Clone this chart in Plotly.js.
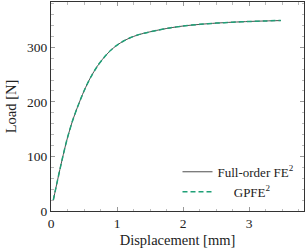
<!DOCTYPE html>
<html>
<head>
<meta charset="utf-8">
<script src="https://cdn.plot.ly/plotly-3.0.1.min.js"></script>
<style>html,body{margin:0;padding:0;background:#fff}#plot{width:306px;height:252px}</style>
</head>
<body>
<div id="plot"></div>
<script>
const displacement = [0.035, 0.1, 0.17, 0.24, 0.32, 0.40, 0.50, 0.60, 0.70, 0.80, 0.90, 1.00, 1.10, 1.20, 1.30, 1.40, 1.60, 1.80, 2.00, 2.25, 2.50, 2.75, 3.00, 3.25, 3.48];
const loadFull = [20, 57, 95, 130, 163, 190, 220, 245, 265, 281, 294, 304, 311.5, 317.5, 322, 325.5, 331, 335.5, 339, 342, 344.3, 346, 347.3, 348.3, 349];
const loadGP = [20, 57, 95, 130, 163, 190, 220, 245, 265, 281, 294, 304, 311.5, 317.5, 322, 325.5, 331, 335.5, 339, 342, 344.3, 346, 347.3, 348.3, 349.2];
const xTicks = [0, 1, 2, 3];
const yTicks = [0, 100, 200, 300];

const fam = 'Liberation Serif, DejaVu Serif, serif';
const tickFont = {family: fam, size: 13.5, color: '#222'};
const titleFont = {family: fam, size: 14.5, color: '#222'};
const traces = [
  {x: displacement, y: loadFull, type: 'scatter', mode: 'lines', name: 'Full-order FE<sup>2</sup>',
   line: {color: '#3a3a3a', width: 0.9, shape: 'spline', smoothing: 0.8}},
  {x: displacement, y: loadGP, type: 'scatter', mode: 'lines', name: '&nbsp;&nbsp;&nbsp;&nbsp;&nbsp;GPFE<sup>2</sup>',
   line: {color: '#1fa077', width: 1.5, dash: '5px,3px', shape: 'spline', smoothing: 0.8}}
];
const axisCommon = {
  showgrid: false, zeroline: false, showline: true, linecolor: '#333', linewidth: 1,
  mirror: 'allticks', ticks: 'inside', ticklen: 4, tickcolor: '#999', tickwidth: 1,
  tickfont: tickFont
};
const layout = {
  width: 306, height: 252,
  margin: {l: 51, r: 2, t: 2, b: 41},
  paper_bgcolor: '#fff', plot_bgcolor: '#fff',
  font: tickFont,
  showlegend: true,
  legend: {x: 0.5, y: 0.02, xanchor: 'left', yanchor: 'bottom', bgcolor: 'rgba(0,0,0,0)',
           font: {family: fam, size: 13, color: '#222'}, tracegroupgap: 0, itemwidth: 30},
  xaxis: Object.assign({}, axisCommon, {
    range: [0, 3.83], tickvals: xTicks, ticktext: xTicks.map(String),
    minor: {ticks: 'inside', dtick: 0.25, ticklen: 2.5, tickcolor: '#bbb'},
    title: {text: 'Displacement [mm]', font: titleFont, standoff: 4}
  }),
  yaxis: Object.assign({}, axisCommon, {
    range: [0, 383], tickvals: yTicks, ticktext: yTicks.map(String),
    minor: {ticks: 'inside', dtick: 20, ticklen: 2.5, tickcolor: '#bbb'},
    title: {text: 'Load [N]', font: titleFont, standoff: 6}
  })
};
Plotly.newPlot('plot', traces, layout, {staticPlot: true, displayModeBar: false});
</script>
</body>
</html>
